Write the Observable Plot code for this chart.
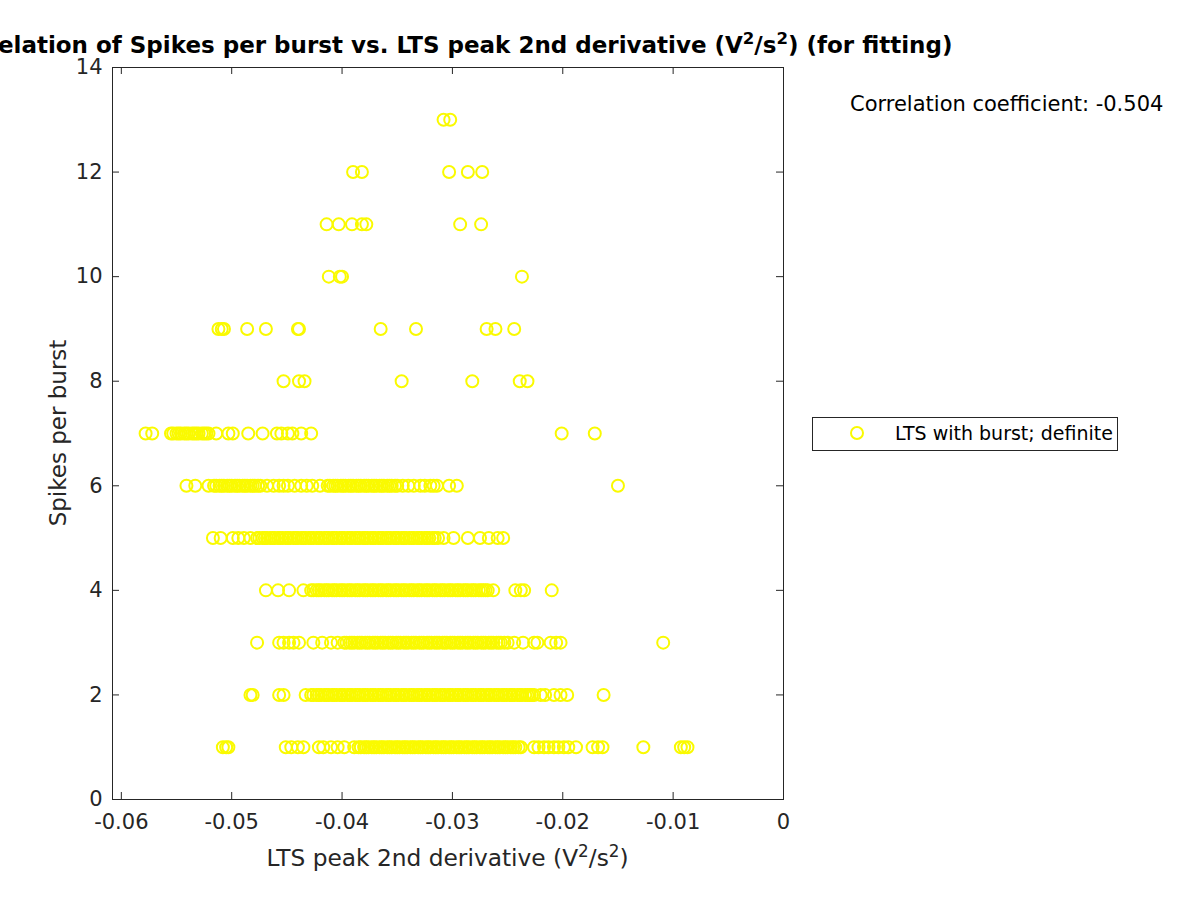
<!DOCTYPE html>
<html>
<head>
<meta charset="utf-8">
<script src="https://cdn.jsdelivr.net/npm/d3@7"></script>
<script src="https://cdn.jsdelivr.net/npm/@observablehq/plot@0.6"></script>
<style>
  html, body { margin: 0; padding: 0; background: #fff; overflow: hidden; }
  #chart { width: 1200px; height: 900px; }
</style>
</head>
<body>
<div id="chart"></div>
<script>
// Spikes per burst levels and LTS peak 2nd derivative values (V^2/s^2)
const lvl13 = [-0.0308, -0.0302];
const lvl12 = [-0.0390, -0.0382, -0.0303, -0.0286, -0.0273];
const lvl11 = [-0.0414, -0.0403, -0.0391, -0.0382, -0.0378, -0.0293, -0.0274];
const lvl10 = [-0.0412, -0.0402, -0.0400, -0.0237];
const lvl9 = [-0.0512, -0.0509, -0.0507, -0.0486, -0.0469, -0.0440, -0.0439, -0.0365, -0.0333, -0.0269, -0.0261, -0.0244];
const lvl8 = [-0.0453, -0.0439, -0.0434, -0.0346, -0.0282, -0.0239, -0.0232];
const lvl7 = [-0.0578, -0.0572,
  -0.0555,-0.0553,-0.0550,-0.0548,-0.0546,-0.0543,-0.0541,-0.0539,-0.0536,-0.0534,-0.0532,-0.0530,-0.0527,-0.0525,-0.0523,-0.0521,
  -0.0514, -0.0503, -0.0499, -0.0485, -0.0472, -0.0459, -0.0455, -0.0449, -0.0445, -0.0437, -0.0428, -0.0201, -0.0171];
const lvl6 = [-0.0541, -0.0533, -0.0521,
  -0.0516,-0.0514,-0.0511,-0.0509,-0.0507,-0.0504,-0.0502,-0.0500,-0.0497,-0.0495,-0.0493,-0.0490,-0.0488,-0.0486,-0.0483,-0.0481,-0.0479,-0.0476,-0.0474,
  -0.0468, -0.0462, -0.0457, -0.0453, -0.0449, -0.0443, -0.0437, -0.0432, -0.0427, -0.0420,
  -0.0413,-0.0411,-0.0408,-0.0406,-0.0404,-0.0401,-0.0399,-0.0397,-0.0394,-0.0392,-0.0390,-0.0387,-0.0385,-0.0383,-0.0380,-0.0378,-0.0376,-0.0373,-0.0371,-0.0369,-0.0366,-0.0364,-0.0362,-0.0359,-0.0357,-0.0355,-0.0352,-0.0350,
  -0.0345, -0.0340, -0.0335, -0.0329, -0.0325, -0.0320, -0.0317, -0.0314, -0.0303, -0.0296, -0.0150];
const lvl5 = [-0.0517, -0.0510, -0.0499, -0.0494, -0.0489, -0.0483,
  -0.0477,-0.0475,-0.0472,-0.0470,-0.0468,-0.0465,-0.0463,-0.0461,-0.0458,-0.0456,-0.0454,-0.0451,-0.0449,-0.0447,-0.0444,-0.0442,-0.0440,-0.0437,-0.0435,-0.0433,
  -0.0430,-0.0428,-0.0426,-0.0423,-0.0421,-0.0419,-0.0416,-0.0414,-0.0412,-0.0409,-0.0407,-0.0405,-0.0402,-0.0400,-0.0398,-0.0395,-0.0393,-0.0391,-0.0388,-0.0386,
  -0.0384,-0.0381,-0.0379,-0.0377,-0.0374,-0.0372,-0.0370,-0.0367,-0.0365,-0.0363,-0.0360,-0.0358,-0.0356,-0.0353,-0.0351,-0.0349,-0.0346,-0.0344,-0.0342,-0.0339,
  -0.0337,-0.0335,-0.0332,-0.0330,-0.0328,-0.0325,-0.0323,-0.0321,-0.0318,-0.0316,-0.0313,
  -0.0308, -0.0299, -0.0286, -0.0275, -0.0267, -0.0259, -0.0254];
const lvl4 = [-0.0469, -0.0458, -0.0448, -0.0435,
  -0.0428,-0.0426,-0.0423,-0.0421,-0.0419,-0.0416,-0.0414,-0.0412,-0.0409,-0.0407,-0.0405,-0.0402,-0.0400,-0.0398,-0.0395,-0.0393,-0.0391,-0.0388,-0.0386,-0.0384,
  -0.0381,-0.0379,-0.0377,-0.0374,-0.0372,-0.0370,-0.0367,-0.0365,-0.0363,-0.0360,-0.0358,-0.0356,-0.0353,-0.0351,-0.0349,-0.0346,-0.0344,-0.0342,-0.0339,-0.0337,
  -0.0335,-0.0332,-0.0330,-0.0328,-0.0325,-0.0323,-0.0321,-0.0318,-0.0316,-0.0314,-0.0311,-0.0309,-0.0307,-0.0304,-0.0302,-0.0300,-0.0297,-0.0295,-0.0293,-0.0290,
  -0.0288,-0.0286,-0.0283,-0.0281,-0.0279,-0.0276,-0.0274,-0.0272,-0.0270,-0.0268,
  -0.0263, -0.0243, -0.0238, -0.0235, -0.0210];
const lvl3 = [-0.0477, -0.0457, -0.0453, -0.0448, -0.0444, -0.0439, -0.0426, -0.0418, -0.0410, -0.0404,
  -0.0398,-0.0396,-0.0393,-0.0391,-0.0389,-0.0386,-0.0384,-0.0382,-0.0379,-0.0377,-0.0375,-0.0372,-0.0370,-0.0368,-0.0365,-0.0363,-0.0361,-0.0358,-0.0356,-0.0354,
  -0.0351,-0.0349,-0.0347,-0.0344,-0.0342,-0.0340,-0.0337,-0.0335,-0.0333,-0.0330,-0.0328,-0.0326,-0.0323,-0.0321,-0.0319,-0.0316,-0.0314,-0.0312,-0.0309,-0.0307,
  -0.0305,-0.0302,-0.0300,-0.0298,-0.0295,-0.0293,-0.0291,-0.0288,-0.0286,-0.0284,-0.0281,-0.0279,-0.0277,-0.0274,-0.0272,-0.0270,-0.0267,-0.0265,-0.0263,-0.0260,
  -0.0258,-0.0256,-0.0253,-0.0250,
  -0.0244, -0.0236, -0.0226, -0.0223, -0.0211, -0.0206, -0.0202, -0.0109];
const lvl2 = [-0.0483, -0.0481, -0.0457, -0.0453, -0.0433,
  -0.0428,-0.0426,-0.0423,-0.0421,-0.0419,-0.0416,-0.0414,-0.0412,-0.0409,-0.0407,-0.0405,-0.0402,-0.0400,-0.0398,-0.0395,-0.0393,-0.0391,-0.0388,-0.0386,-0.0384,
  -0.0381,-0.0379,-0.0377,-0.0374,-0.0372,-0.0370,-0.0367,-0.0365,-0.0363,-0.0360,-0.0358,-0.0356,-0.0353,-0.0351,-0.0349,-0.0346,-0.0344,-0.0342,-0.0339,-0.0337,
  -0.0335,-0.0332,-0.0330,-0.0328,-0.0325,-0.0323,-0.0321,-0.0318,-0.0316,-0.0314,-0.0311,-0.0309,-0.0307,-0.0304,-0.0302,-0.0300,-0.0297,-0.0295,-0.0293,-0.0290,
  -0.0288,-0.0286,-0.0283,-0.0281,-0.0279,-0.0276,-0.0274,-0.0272,-0.0269,-0.0267,-0.0265,-0.0262,-0.0260,-0.0258,-0.0255,-0.0253,-0.0251,-0.0248,-0.0246,-0.0244,
  -0.0241,-0.0239,-0.0237,-0.0234,-0.0232,-0.0230,-0.0228,-0.0226,
  -0.0220, -0.0216, -0.0208, -0.0202, -0.0196, -0.0163];
const lvl1 = [-0.0508, -0.0505, -0.0503, -0.0451, -0.0446, -0.0440, -0.0435, -0.0421, -0.0417, -0.0410, -0.0404, -0.0398, -0.0389,
  -0.0385,-0.0383,-0.0380,-0.0378,-0.0376,-0.0373,-0.0371,-0.0369,-0.0366,-0.0364,-0.0362,-0.0359,-0.0357,-0.0355,-0.0352,-0.0350,-0.0348,-0.0345,-0.0343,-0.0341,
  -0.0338,-0.0336,-0.0334,-0.0331,-0.0329,-0.0327,-0.0324,-0.0322,-0.0320,-0.0317,-0.0315,-0.0313,-0.0310,-0.0308,-0.0306,-0.0303,-0.0301,-0.0299,-0.0296,-0.0294,
  -0.0292,-0.0289,-0.0287,-0.0285,-0.0282,-0.0280,-0.0278,-0.0275,-0.0273,-0.0271,-0.0268,-0.0266,-0.0264,-0.0261,-0.0259,-0.0257,-0.0254,-0.0252,-0.0250,-0.0247,
  -0.0245,-0.0243,-0.0240,-0.0238,
  -0.0226, -0.0222, -0.0217, -0.0213, -0.0208, -0.0204, -0.0199, -0.0195, -0.0188, -0.0173, -0.0168, -0.0164, -0.0127, -0.0093, -0.0090, -0.0087];

const levels = [[1, lvl1], [2, lvl2], [3, lvl3], [4, lvl4], [5, lvl5], [6, lvl6], [7, lvl7],
                [8, lvl8], [9, lvl9], [10, lvl10], [11, lvl11], [12, lvl12], [13, lvl13]];
const xTicks = [-0.06, -0.05, -0.04, -0.03, -0.02, -0.01, 0];
const yTicks = [0, 2, 4, 6, 8, 10, 12, 14];
const xDomain = [-0.0608, 0];
const yDomain = [0, 14];
const corrText = "Correlation coefficient: -0.504";
const legendLabel = "LTS with burst; definite";

const points = [];
for (const [y, xs] of levels) for (const x of xs) points.push({x, y});

const W = 1200, H = 900, mL = 112, mR = 417, mT = 67, mB = 101;
const innerW = W - mL - mR, innerH = H - mT - mB;
const axisColor = "#262626";
const yellow = "#fafa00";
const fmt = d => d === 0 ? "0" : String(+d.toFixed(2));

const chart = Plot.plot({
  width: W, height: H,
  marginLeft: mL, marginRight: mR, marginTop: mT, marginBottom: mB,
  x: {domain: xDomain},
  y: {domain: yDomain},
  style: {fontFamily: "DejaVu Sans", fontSize: "21px", color: axisColor, background: "white"},
  marks: [
    Plot.dot(points, {x: "x", y: "y", r: 6, stroke: yellow, strokeWidth: 2, fill: "none"}),
    Plot.frame({stroke: axisColor, strokeWidth: 1}),
    Plot.tickX(xTicks, {x: d => d, insetTop: innerH - 7, stroke: axisColor}),
    Plot.tickX(xTicks, {x: d => d, insetBottom: innerH - 7, stroke: axisColor}),
    Plot.tickY(yTicks, {y: d => d, insetRight: innerW - 7, stroke: axisColor}),
    Plot.tickY(yTicks, {y: d => d, insetLeft: innerW - 7, stroke: axisColor}),
    Plot.axisX({ticks: xTicks, tickSize: 0, tickPadding: 15, tickFormat: fmt, label: null, fontSize: 21, fill: axisColor}),
    Plot.axisY({ticks: yTicks, tickSize: 0, tickPadding: 10, tickFormat: fmt, label: null, fontSize: 21, fill: axisColor})
  ]
});
document.getElementById("chart").appendChild(chart);

const svg = d3.select(chart);
const cx = mL + innerW / 2;

function supText(g, parts, shift) {
  let raised = false;
  for (const [t, sup] of parts) {
    const ts = g.append("tspan").text(t);
    if (sup) { ts.attr("dy", -shift).attr("font-size", "0.72em"); raised = true; }
    else if (raised) { ts.attr("dy", shift); raised = false; }
  }
}

// Title (its left end runs past the page edge, as in the original)
const title = svg.append("text")
  .attr("x", cx).attr("y", 53).attr("text-anchor", "middle")
  .attr("font-family", "DejaVu Sans").attr("font-weight", "bold").attr("font-size", 23).attr("fill", "#000");
supText(title, [["Correlation of Spikes per burst vs. LTS peak 2nd derivative (V"], ["2", true], ["/s"], ["2", true], [") (for fitting)"]], 9);

// X label
const xl = svg.append("text")
  .attr("x", cx).attr("y", 866).attr("text-anchor", "middle")
  .attr("font-family", "DejaVu Sans").attr("font-size", 23.3).attr("fill", axisColor);
supText(xl, [["LTS peak 2nd derivative (V"], ["2", true], ["/s"], ["2", true], [")"]], 9);

// Y label
svg.append("text")
  .attr("transform", `translate(66, ${mT + innerH / 2}) rotate(-90)`)
  .attr("text-anchor", "middle")
  .attr("font-family", "DejaVu Sans").attr("font-size", 23).attr("fill", axisColor)
  .text("Spikes per burst");

// Correlation coefficient
svg.append("text")
  .attr("x", 850).attr("y", 111).attr("text-anchor", "start")
  .attr("font-family", "DejaVu Sans").attr("font-size", 21).attr("fill", "#000")
  .text(corrText);

// Legend
svg.append("rect").attr("x", 812.5).attr("y", 417.5).attr("width", 305).attr("height", 33)
  .attr("fill", "white").attr("stroke", axisColor).attr("stroke-width", 1);
svg.append("circle").attr("cx", 857).attr("cy", 433).attr("r", 6)
  .attr("fill", "none").attr("stroke", yellow).attr("stroke-width", 2);
svg.append("text").attr("x", 895).attr("y", 440).attr("text-anchor", "start")
  .attr("font-family", "DejaVu Sans").attr("font-size", 19).attr("fill", "#000")
  .text(legendLabel);
</script>
</body>
</html>
